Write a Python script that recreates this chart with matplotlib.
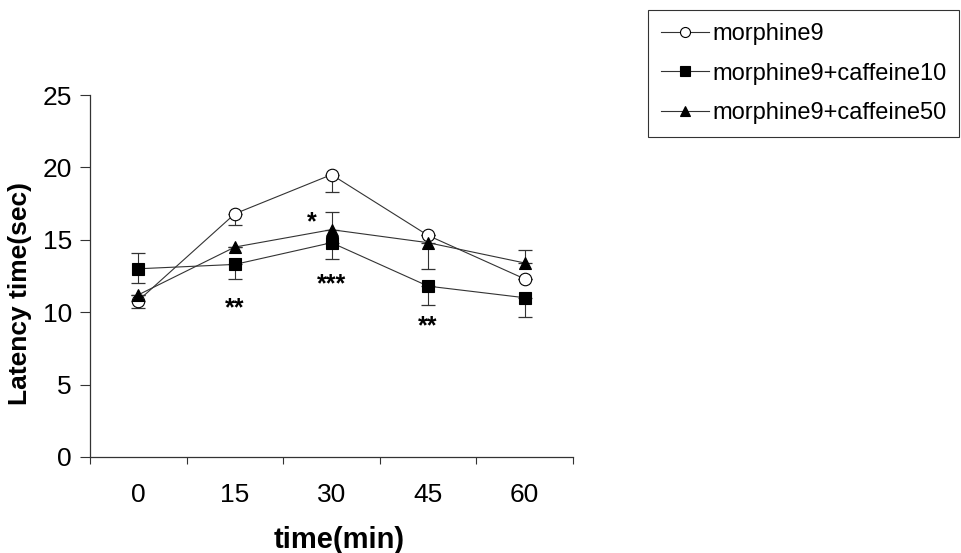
import matplotlib
matplotlib.use('Agg')
import matplotlib.pyplot as plt
import numpy as np

plt.rcParams['font.family'] = ['Liberation Sans', 'DejaVu Sans']

# Data
times = ['0', '15', '30', '45', '60']

morphine9 = [10.8, 16.8, 19.5, 15.3, 12.3]
morphine9_lo = [0.5, 0.8, 1.2, 0.0, 0.0]
morphine9_hi = [0.0, 0.0, 0.0, 0.0, 0.0]

caffeine10 = [13.0, 13.3, 14.8, 11.8, 11.0]
caffeine10_lo = [1.0, 1.0, 1.1, 1.3, 1.3]
caffeine10_hi = [1.1, 0.0, 0.0, 0.0, 0.0]

caffeine50 = [11.2, 14.5, 15.7, 14.8, 13.4]
caffeine50_lo = [0.0, 0.0, 0.0, 1.8, 0.0]
caffeine50_hi = [0.0, 0.0, 1.2, 0.0, 0.9]

# significance marks: (category position, y value, text)
sig_x = [1.0, 1.8, 2.0, 3.0]
sig_y = [10.3, 16.2, 11.9, 9.0]
sig_txt = ['**', '*', '***', '**']

fig = plt.figure(figsize=(9.62, 5.53), dpi=100)
ax = fig.add_axes([0.0936, 0.1736, 0.502, 0.6546])

x = np.arange(len(times))
line_col = '#333333'

series = [
    (morphine9, morphine9_lo, morphine9_hi, 'o', 'white', 'morphine9'),
    (caffeine10, caffeine10_lo, caffeine10_hi, 's', 'black', 'morphine9+caffeine10'),
    (caffeine50, caffeine50_lo, caffeine50_hi, '^', 'black', 'morphine9+caffeine50'),
]

handles = []
for vals, lo, hi, mk, fc, lab in series:
    ax.errorbar(x, vals, yerr=[lo, hi], fmt='none', ecolor=line_col,
                elinewidth=0.8, capsize=5, capthick=0.9, zorder=2)
    h, = ax.plot(x, vals, color=line_col, lw=0.8, marker=mk, markersize=9,
                 markerfacecolor=fc, markeredgecolor='black', markeredgewidth=0.8,
                 label=lab, zorder=3)
    handles.append(h)

for sx, sy, st in zip(sig_x, sig_y, sig_txt):
    ax.text(sx, sy, st, ha='center', va='center', fontsize=18, fontweight='bold')

ax.set_xlim(-0.5, len(times) - 0.5)
ax.set_ylim(0, 25)
ax.set_yticks([0, 5, 10, 15, 20, 25])
ax.set_xticks(x)
ax.set_xticklabels(times)
# tick marks between categories, labels at centers
ax.set_xticks(np.arange(-0.5, len(times)), minor=True)
ax.tick_params(axis='x', which='major', length=0, pad=19, labelsize=19)
ax.tick_params(axis='x', which='minor', length=5, direction='out', width=0.8, color=line_col)
ax.tick_params(axis='y', length=7, direction='out', width=0.8, color=line_col,
               labelsize=19, pad=6)

for s in ['top', 'right']:
    ax.spines[s].set_visible(False)
for s in ['left', 'bottom']:
    ax.spines[s].set_color(line_col)
    ax.spines[s].set_linewidth(0.9)

ax.set_xlabel('time(min)', fontsize=21, fontweight='bold')
ax.set_ylabel('Latency time(sec)', fontsize=19, fontweight='bold')
ax.xaxis.set_label_coords(0.515, -0.19)
ax.yaxis.set_label_coords(-0.12, 0.453)

leg = fig.legend(handles=handles, loc='upper left', bbox_to_anchor=(0.674, 0.982),
                 borderaxespad=0, fontsize=17, frameon=True, fancybox=False,
                 edgecolor='black', handlelength=2.0, handletextpad=0.15,
                 labelspacing=0.75, borderpad=0.55, markerscale=0.8)
leg.get_frame().set_linewidth(0.8)

fig.savefig('out.png', dpi=100)
